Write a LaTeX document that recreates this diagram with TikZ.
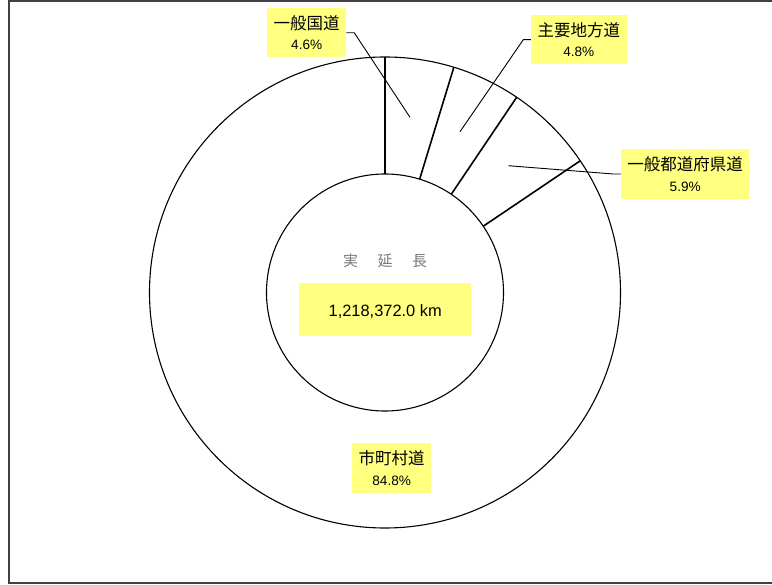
\documentclass[tikz,border=0pt]{standalone}
\usepackage{fontspec}
\setmainfont{Liberation Sans}
\newfontfamily\cjk{Noto Sans CJK JP}
\definecolor{lblyellow}{RGB}{255,255,128}
\definecolor{framegray}{RGB}{64,64,64}
\definecolor{textgray}{RGB}{120,120,120}
\newcommand{\jpline}[1]{{\cjk\fontsize{16.5pt}{20.6pt}\selectfont #1}}
\begin{document}
\begin{tikzpicture}[x=1pt,y=-1pt,
  lbl/.style={fill=lblyellow, inner sep=0pt, align=center, font=\fontsize{13.6pt}{20.6pt}\selectfont},
  ring/.style={circle, draw, line width=1.1pt, inner sep=0pt, outer sep=0pt},
  sepline/.style={line width=1.6pt},
  leader/.style={line width=0.9pt}]
\useasboundingbox (0,0) rectangle (772,585);
\draw[framegray, line width=1.5pt] (772,1) -- (9,1) -- (9,583) -- (772,583);
\coordinate (c) at (385,292.5);
\node[ring, minimum size=471pt] (outer) at (c) {};
\node[ring, minimum size=237pt] (inner) at (c) {};
\foreach \a in {90,73.44,56.16,34.92} \draw[sepline] (inner.\a) -- (outer.\a);
% labels
\node[lbl, minimum width=78.7pt, minimum height=49pt] (kokudo) at (306.7,32.8) {\jpline{一般国道}\\4.6\%};
\node[lbl, minimum width=95.7pt, minimum height=49.3pt] (chiho) at (578.8,39.7) {\jpline{主要地方道}\\4.8\%};
\node[lbl, minimum width=128.3pt, minimum height=50pt] (todofuken) at (685.2,174) {\jpline{一般都道府県道}\\5.9\%};
\node[lbl, minimum width=78.7pt, minimum height=49.4pt] (shichoson) at (391.7,468) {\jpline{市町村道}\\84.8\%};
% centre
\node[font=\cjk\fontsize{15pt}{18pt}\selectfont, text=textgray] (jitsu) at (385,261) {実\hspace{19.5pt}延\hspace{19.5pt}長};
\node[lbl, minimum width=171.7pt, minimum height=52.4pt, font=\fontsize{16.4pt}{18pt}\selectfont, text height=14pt, text depth=0pt] (total) at (385.2,309.5) {1,218,372.0 km};
% leaders
\coordinate (kokudoB) at (354.3,32.8);
\coordinate (kokudoP) at (410,117.3);
\draw[leader] (kokudo.east) -- (kokudoB) -- (kokudoP);
\coordinate (chihoB) at (523.3,39.7);
\coordinate (chihoP) at (460,131.7);
\draw[leader] (chiho.west) -- (chihoB) -- (chihoP);
\coordinate (todoB) at (613.3,174);
\coordinate (todoP) at (508.3,165.7);
\draw[leader] (todofuken.west) -- (todoB) -- (todoP);
\end{tikzpicture}
\end{document}
